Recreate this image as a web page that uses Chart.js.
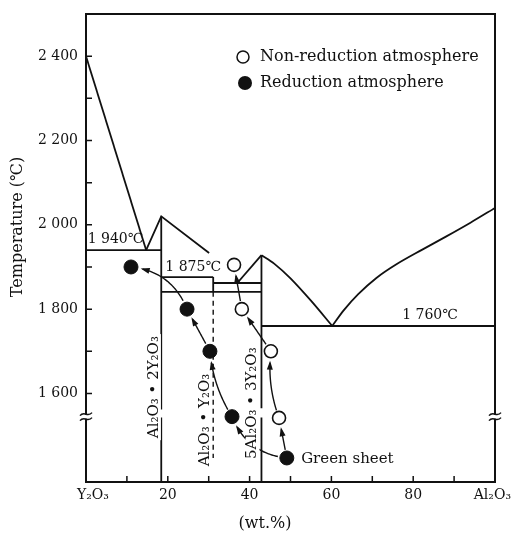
<!DOCTYPE html>
<html lang="en">
<head>
<meta charset="UTF-8">
<title>Y2O3 - Al2O3 phase diagram</title>
<style>
  * { margin: 0; padding: 0; box-sizing: border-box; }
  body { background: #fff; width: 512px; height: 536px; overflow: hidden; }
  canvas { display: block; }
</style>
<script src="https://cdn.jsdelivr.net/npm/chart.js"></script>
</head>
<body>
<canvas id="phaseChart" width="512" height="536"></canvas>
<script>
// axes: wt.% Al2O3 across, temperature (°C) up
const xRange = [0, 100];
const yRange = [1390, 2500];
const xTickValues = [0, 20, 40, 60, 80, 100];
const xTickLabels = ['Y₂O₃', '20', '40', '60', '80', 'Al₂O₃'];
const xMinorTicks = [10, 20, 30, 40, 50, 60, 70, 80, 90];
const yTickValues = [1600, 1800, 2000, 2200, 2400];
const yTickLabels = ['1 600', '1 800', '2 000', '2 200', '2 400'];
const yMinorTicks = [1600, 1700, 1800, 1900, 2000, 2100, 2200, 2300, 2400];
const breakTemp = 1545;

// phase boundaries [wt.%, °C]
const liqY2O3 = [[0, 2400], [14.7, 1940]];
const liq21 = [[14.7, 1940], [18.4, 2020], [30.1, 1933]];
const liqYAGLeft = [[37.0, 1862], [42.9, 1928]];
const liqYAGRight = [[42.9, 1928], [46.0, 1908], [50.0, 1873], [55.0, 1820], [60.2, 1760]];
const liqAl2O3 = [[60.2, 1760], [63.0, 1797], [66.5, 1835], [71.0, 1874], [76.0, 1907], [82.0, 1940], [88.0, 1972], [94.0, 2005], [100, 2040]];
const eut1940 = [[0, 1940], [18.4, 1940]];
const eut1875 = [[18.4, 1876], [31.1, 1876]];
const solid1862 = [[31.1, 1862], [42.9, 1862]];
const solid1841 = [[18.4, 1841], [42.9, 1841]];
const eut1760 = [[42.9, 1760], [100, 1760]];
const comp21Upper = [[18.4, 2020], [18.4, 1562]];
const comp21Lower = [[18.4, 1543], [18.4, 1390]];
const comp11Solid = [[31.1, 1876], [31.1, 1841]];
const comp11Dashed = [[31.1, 1841], [31.1, 1447]];
const compYAGUpper = [[42.9, 1928], [42.9, 1565]];
const compYAGLower = [[42.9, 1543], [42.9, 1390]];

// fired samples
const nonRedX = [36.2, 38.1, 45.2, 47.2];
const nonRedT = [1905, 1800, 1700, 1542];
const redX = [11.0, 24.7, 30.3, 35.7];
const redT = [1900, 1800, 1700, 1545];
const greenX = [49.1];
const greenT = [1447];

// arrow bends along each firing path (green sheet -> highest temperature)
const redBends = [-0.3, -0.12, 0, 0.3];
const nonRedBends = [0, -0.12, 0, 0];

const SERIF = '"DejaVu Serif", "Liberation Serif", serif';
const INK = '#111';

function pts(arr) { return arr.map(p => ({ x: p[0], y: p[1] })); }

function phaseLine(arr, extra) {
  return Object.assign({
    data: pts(arr),
    showLine: true,
    borderColor: INK,
    borderWidth: 1.8,
    pointRadius: 0,
    fill: false,
    tension: 0
  }, extra || {});
}

function drawArrow(c, p0, p2, bend) {
  const dx = p2.x - p0.x, dy = p2.y - p0.y;
  const cp = { x: (p0.x + p2.x) / 2 - dy * bend, y: (p0.y + p2.y) / 2 + dx * bend };
  const path = [];
  for (let i = 0; i <= 60; i++) {
    const t = i / 60, u = 1 - t;
    const q = {
      x: u * u * p0.x + 2 * u * t * cp.x + t * t * p2.x,
      y: u * u * p0.y + 2 * u * t * cp.y + t * t * p2.y
    };
    if (Math.hypot(q.x - p0.x, q.y - p0.y) > 8 && Math.hypot(q.x - p2.x, q.y - p2.y) > 11) path.push(q);
  }
  if (path.length < 2) return;
  c.beginPath();
  c.moveTo(path[0].x, path[0].y);
  path.forEach(q => c.lineTo(q.x, q.y));
  c.stroke();
  const tip = path[path.length - 1], prev = path[path.length - 4] || path[0];
  const len = Math.hypot(tip.x - prev.x, tip.y - prev.y);
  const ux = (tip.x - prev.x) / len, uy = (tip.y - prev.y) / len;
  c.beginPath();
  c.moveTo(tip.x + ux * 2, tip.y + uy * 2);
  c.lineTo(tip.x - ux * 7 - uy * 3, tip.y - uy * 7 + ux * 3);
  c.lineTo(tip.x - ux * 7 + uy * 3, tip.y - uy * 7 - ux * 3);
  c.closePath();
  c.fill();
}

function rotatedLabel(c, text, px, py, withBox) {
  c.save();
  c.translate(px, py);
  c.rotate(-Math.PI / 2);
  if (withBox) {
    const w = c.measureText(text).width;
    c.fillStyle = '#fff';
    c.fillRect(-w / 2 - 2, -7, w + 4, 14);
  }
  c.fillStyle = INK;
  c.fillText(text, 0, 0);
  c.restore();
}

const decor = {
  id: 'decor',
  afterDatasetsDraw(chart) {
    const c = chart.ctx, xs = chart.scales.x, ys = chart.scales.y;
    const P = (x, t) => ({ x: xs.getPixelForValue(x), y: ys.getPixelForValue(t) });
    c.save();
    c.strokeStyle = INK;
    c.fillStyle = INK;
    c.lineWidth = 1.4;

    // reduction path
    let from = P(greenX[0], greenT[0]);
    for (let i = redX.length - 1, k = 0; i >= 0; i--, k++) {
      const to = P(redX[i], redT[i]);
      drawArrow(c, from, to, redBends[k]);
      from = to;
    }
    // non-reduction path
    from = P(greenX[0], greenT[0]);
    for (let i = nonRedX.length - 1, k = 0; i >= 0; i--, k++) {
      const to = P(nonRedX[i], nonRedT[i]);
      drawArrow(c, from, to, nonRedBends[k]);
      from = to;
    }

    // compound names along the composition lines
    c.font = '15px ' + SERIF;
    c.textAlign = 'center';
    c.textBaseline = 'middle';
    let p = P(16.6, 1615);
    rotatedLabel(c, 'Al₂O₃ • 2Y₂O₃', p.x, p.y, true);
    p = P(29.0, 1537);
    rotatedLabel(c, 'Al₂O₃ • Y₂O₃', p.x, p.y, true);
    p = P(40.7, 1577);
    rotatedLabel(c, '5Al₂O₃ • 3Y₂O₃', p.x, p.y, true);

    // invariant temperatures
    c.font = '14px ' + SERIF;
    c.textAlign = 'left';
    c.fillStyle = INK;
    p = P(0.4, 1966);
    c.fillText('1 940℃', p.x, p.y);
    p = P(19.4, 1898);
    c.fillText('1 875℃', p.x, p.y);
    p = P(77.3, 1786);
    c.fillText('1 760℃', p.x, p.y);

    c.font = '15px ' + SERIF;
    p = P(52.6, 1447);
    c.fillText('Green sheet', p.x, p.y + 1);
    c.restore();
  },
  afterDraw(chart) {
    const c = chart.ctx, a = chart.chartArea, xs = chart.scales.x, ys = chart.scales.y;
    c.save();
    c.strokeStyle = INK;
    c.fillStyle = INK;

    // frame
    c.lineWidth = 2;
    c.strokeRect(a.left, a.top, a.right - a.left, a.bottom - a.top);

    // inward ticks
    c.lineWidth = 1.5;
    c.beginPath();
    xMinorTicks.forEach(v => {
      const px = xs.getPixelForValue(v);
      c.moveTo(px, a.bottom);
      c.lineTo(px, a.bottom - 6);
    });
    yMinorTicks.forEach(v => {
      const py = ys.getPixelForValue(v);
      c.moveTo(a.left, py);
      c.lineTo(a.left + 6, py);
    });
    c.stroke();

    // axis breaks
    const yb = ys.getPixelForValue(breakTemp);
    [a.left, a.right].forEach(ax => {
      c.fillStyle = '#fff';
      c.fillRect(ax - 3, yb - 2, 6, 4);
      c.beginPath();
      [-2.5, 2.5].forEach(off => {
        c.moveTo(ax - 6, yb + off + 1.5);
        c.bezierCurveTo(ax - 2, yb + off - 3.5, ax + 2, yb + off + 3.5, ax + 6, yb + off - 1.5);
      });
      c.lineWidth = 1.5;
      c.stroke();
    });
    c.fillStyle = INK;

    // tick labels
    c.font = '14px ' + SERIF;
    c.textAlign = 'right';
    c.textBaseline = 'middle';
    yTickValues.forEach((v, i) => c.fillText(yTickLabels[i], a.left - 8, ys.getPixelForValue(v)));

    xTickValues.forEach((v, i) => {
      const px = xs.getPixelForValue(v);
      if (i === 0) { c.textAlign = 'left'; c.fillText(xTickLabels[i], px - 9, a.bottom + 13); }
      else if (i === xTickValues.length - 1) { c.textAlign = 'right'; c.fillText(xTickLabels[i], px + 16, a.bottom + 13); }
      else { c.textAlign = 'center'; c.fillText(xTickLabels[i], px, a.bottom + 13); }
    });

    // axis titles
    c.textAlign = 'center';
    c.font = '16px ' + SERIF;
    c.fillText('(wt.%)', 265, 524);
    c.save();
    c.translate(18, 227);
    c.rotate(-Math.PI / 2);
    c.fillText('Temperature (℃)', 0, 0);
    c.restore();

    // legend
    c.font = '16px ' + SERIF;
    c.textAlign = 'left';
    c.lineWidth = 1.5;
    c.beginPath();
    c.arc(243, 57, 6, 0, Math.PI * 2);
    c.fillStyle = '#fff';
    c.fill();
    c.stroke();
    c.beginPath();
    c.arc(245, 83, 7, 0, Math.PI * 2);
    c.fillStyle = INK;
    c.fill();
    c.fillText('Non-reduction atmosphere', 260, 57);
    c.fillText('Reduction atmosphere', 260, 83);
    c.restore();
  }
};

new Chart(document.getElementById('phaseChart').getContext('2d'), {
  type: 'scatter',
  data: {
    datasets: [
      phaseLine(liqY2O3),
      phaseLine(liq21),
      phaseLine(liqYAGLeft),
      phaseLine(liqYAGRight, { tension: 0.3 }),
      phaseLine(liqAl2O3, { tension: 0.3 }),
      phaseLine(eut1940),
      phaseLine(eut1875),
      phaseLine(solid1862),
      phaseLine(solid1841),
      phaseLine(eut1760),
      phaseLine(comp21Upper),
      phaseLine(comp21Lower),
      phaseLine(comp11Solid),
      phaseLine(comp11Dashed, { borderDash: [5, 4], borderWidth: 1.4 }),
      phaseLine(compYAGUpper),
      phaseLine(compYAGLower),
      {
        label: 'Non-reduction atmosphere',
        data: nonRedX.map((x, i) => ({ x: x, y: nonRedT[i] })),
        pointRadius: 6.5,
        pointBackgroundColor: '#fff',
        pointBorderColor: INK,
        pointBorderWidth: 1.6
      },
      {
        label: 'Reduction atmosphere',
        data: redX.map((x, i) => ({ x: x, y: redT[i] })),
        pointRadius: 7,
        pointBackgroundColor: INK,
        pointBorderColor: INK,
        pointBorderWidth: 1
      },
      {
        label: 'Green sheet',
        data: greenX.map((x, i) => ({ x: x, y: greenT[i] })),
        pointRadius: 7,
        pointBackgroundColor: INK,
        pointBorderColor: INK,
        pointBorderWidth: 1
      }
    ]
  },
  options: {
    responsive: false,
    animation: false,
    devicePixelRatio: 1,
    layout: { padding: { left: 86, right: 17, top: 14, bottom: 54 } },
    scales: {
      x: { type: 'linear', min: xRange[0], max: xRange[1], display: false },
      y: { type: 'linear', min: yRange[0], max: yRange[1], display: false }
    },
    plugins: { legend: { display: false }, tooltip: { enabled: false } }
  },
  plugins: [decor]
});
</script>
</body>
</html>
